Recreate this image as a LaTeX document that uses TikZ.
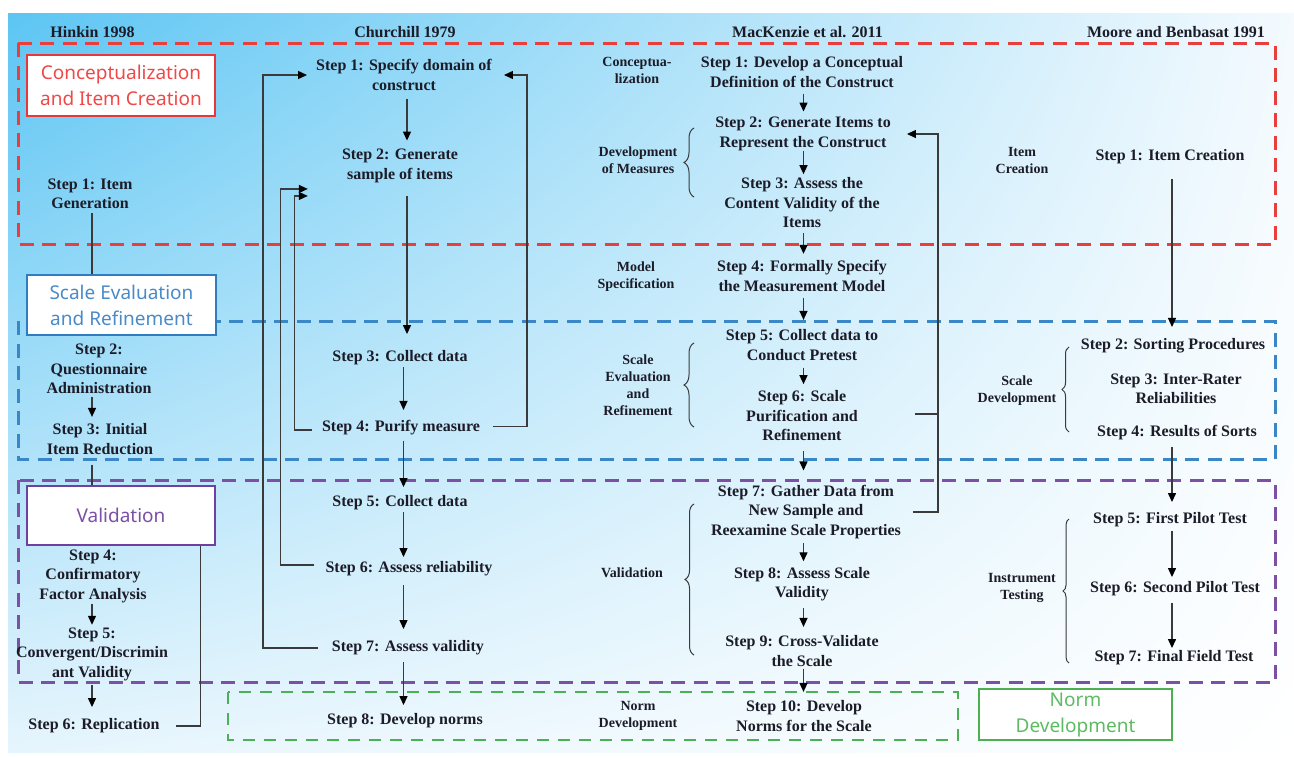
\documentclass[tikz,border=0pt]{standalone}
\usepackage{fontspec}
\setmainfont{Liberation Serif}
\newfontfamily\lblfont{Noto Sans}
\usetikzlibrary{arrows.meta,decorations.pathreplacing,calc,shadings}
\definecolor{bgA}{HTML}{5CC5F3}
\definecolor{bgB}{HTML}{F4FAFE}
\definecolor{bgC}{HTML}{E6F5FD}
\definecolor{dred}{HTML}{E83E3C}
\definecolor{dblue}{HTML}{3A87C8}
\definecolor{dpurp}{HTML}{7B50A5}
\definecolor{dgreen}{HTML}{4DAF56}
\definecolor{tred}{HTML}{F04848}
\definecolor{tblue}{HTML}{4A8AC8}
\definecolor{tpurp}{HTML}{7B50A5}
\definecolor{tgreen}{HTML}{5DBB63}
\definecolor{bred}{HTML}{E8373A}
\definecolor{bblue}{HTML}{2F7DC0}
\definecolor{bpurp}{HTML}{7040A0}
\definecolor{bgreen}{HTML}{4CAF50}
\definecolor{linec}{HTML}{3A3A3A}
\definecolor{txtc}{HTML}{1C1C28}
\newcommand{\mystepfont}{\fontsize{16}{19.5}\selectfont\bfseries}
\newcommand{\myphfont}{\fontsize{14}{17}\selectfont\bfseries}
\newcommand{\myboxfont}{\lblfont\fontsize{19}{26}\selectfont}
\tikzset{
  st/.style={font=\mystepfont, align=center, inner sep=0pt, text=txtc},
  ph/.style={font=\myphfont, align=center, inner sep=0pt, text=txtc},
  lb/.style 2 args={draw=#1, text=#2, line width=2.5pt, fill=white, inner sep=0pt, align=center, font=\myboxfont},
  ln/.style={draw=linec, line width=1.3pt},
  arr/.style={ln, -{Triangle[length=9pt,width=8pt,color=black]}},
  brc/.style={draw=linec, line width=1pt, decorate, decoration={brace, amplitude=#1}},
  dsh/.style={draw=#1, line width=3pt, dash pattern=on 14pt off 8.5pt},
}
\begin{document}
\begin{tikzpicture}[x=1pt,y=-1pt]
\useasboundingbox (0,0) rectangle (1294,758);
\fill[white] (0,0) rectangle (1294,758);
\shade[upper left=bgA, upper right=bgB, lower left=bgC, lower right=white] (8,13) rectangle (1294,752);

% dashed phase regions
\draw[dsh=dred] (18,43) rectangle (1275,244);
\draw[dsh=dblue] (18,321) rectangle (1275,459);
\draw[dsh=dpurp] (18,480) rectangle (1275,682);
\draw[dsh=dgreen, line width=2.5pt, dash pattern=on 12pt off 9pt] (228,692) rectangle (958,740);

% label boxes
\node[lb={bred}{tred}, minimum width=188pt, minimum height=61pt] (lbC) at (121,85.5) {Conceptualization\\and Item Creation};
\node[lb={bblue}{tblue}, minimum width=189pt, minimum height=60pt] (lbS) at (121.5,305) {Scale Evaluation\\and Refinement};
\node[lb={bpurp}{tpurp}, minimum width=188pt, minimum height=59pt] (lbV) at (121,515.5) {Validation};
\node[lb={bgreen}{tgreen}, minimum width=193pt, minimum height=51pt] (lbN) at (1075.5,714.5) {Norm\\Development};

% headers
\node[st] (hdH) at (92.5,32) {Hinkin 1998};
\node[st] (hdC) at (405,32) {Churchill 1979};
\node[st] (hdM) at (807.5,32) {MacKenzie et al. 2011};
\node[st] (hdO) at (1176,32) {Moore and Benbasat 1991};

% Hinkin
\node[st] (h1) at (90,194) {Step 1: Item\\Generation};
\node[st] (h2) at (99,369) {Step 2:\\Questionnaire\\Administration};
\node[st] (h3) at (100,439) {Step 3: Initial\\Item Reduction};
\node[st] (h4) at (93,576) {Step 4:\\Confirmatory\\Factor Analysis};
\node[st] (h5) at (92,654) {Step 5:\\Convergent/Discrimin\\ant Validity};
\node[st] (h6) at (94,726) {Step 6: Replication};

% Churchill
\node[st] (c1) at (404,75) {Step 1: Specify domain of\\construct};
\node[st] (c2) at (400,166) {Step 2: Generate\\sample of items};
\node[st] (c3) at (400,358) {Step 3: Collect data};
\node[st] (c4) at (401,428) {Step 4: Purify measure};
\node[st] (c5) at (400,503) {Step 5: Collect data};
\node[st] (c6) at (409,569) {Step 6: Assess reliability};
\node[st] (c7) at (408,648) {Step 7: Assess validity};
\node[st] (c8) at (405,721) {Step 8: Develop norms};

% MacKenzie
\node[ph] (pConc) at (637,70) {Conceptua-\\lization};
\node[ph] (pDev) at (638,160) {Development\\of Measures};
\node[ph] (pMod) at (636,277) {Model\\Specification};
\node[ph] (pSE) at (638,385) {Scale\\Evaluation\\and\\Refinement};
\node[ph] (pVal) at (632,573) {Validation};
\node[ph] (pNorm) at (638,716) {Norm\\Development};
\node[st] (m1) at (802,72) {Step 1: Develop a Conceptual\\Definition of the Construct};
\node[st] (m2) at (803,134) {Step 2: Generate Items to\\Represent the Construct};
\node[st] (m3) at (802,203) {Step 3: Assess the\\Content Validity of the\\Items};
\node[st] (m4) at (802,276) {Step 4: Formally Specify\\the Measurement Model};
\node[st] (m5) at (802,345) {Step 5: Collect data to\\Conduct Pretest};
\node[st] (m6) at (802,416) {Step 6: Scale\\Purification and\\Refinement};
\node[st] (m7) at (806,512) {Step 7: Gather Data from\\New Sample and\\Reexamine Scale Properties};
\node[st] (m8) at (802,584) {Step 8: Assess Scale\\Validity};
\node[st] (m9) at (802,651) {Step 9: Cross-Validate\\the Scale};
\node[st] (m10) at (804,716) {Step 10: Develop\\Norms for the Scale};

% Moore and Benbasat
\node[ph] (pItem) at (1022,160) {Item\\Creation};
\node[ph] (pSD) at (1017,391) {Scale\\Development};
\node[ph] (pIT) at (1022,588) {Instrument\\Testing};
\node[st] (o1) at (1170,157) {Step 1: Item Creation};
\node[st] (o2) at (1173,346) {Step 2: Sorting Procedures};
\node[st] (o3) at (1176,389) {Step 3: Inter-Rater\\Reliabilities};
\node[st] (o4) at (1177,433) {Step 4: Results of Sorts};
\node[st] (o5) at (1170,520) {Step 5: First Pilot Test};
\node[st] (o6) at (1175,589) {Step 6: Second Pilot Test};
\node[st] (o7) at (1174,658) {Step 7: Final Field Test};

% column coordinates
\coordinate (colH) at (92,0);
\coordinate (colCa) at (407,0);
\coordinate (colCb) at (403.5,0);
\coordinate (colM) at (803.5,0);
\coordinate (colO) at (1172,0);

% Hinkin connectors
\draw[ln, shorten <=4pt] (h1.south -| colH) -- (lbS.north -| colH);
\draw[arr, shorten <=3pt, shorten >=6.5pt] (h2.south -| colH) -- (h3.north -| colH);
\draw[ln, shorten <=10pt] (h3.south -| colH) -- (lbV.north -| colH);
\draw[arr, shorten <=1pt, shorten >=2.5pt] (h4.south -| colH) -- (h5.north -| colH);
\draw[arr, shorten <=4pt, shorten >=11.5pt] (h5.south -| colH) -- (h6.north -| colH);
\draw[ln] ([xshift=16pt]h6.east) -| ([xshift=-16pt]lbV.south east);

% Churchill connectors
\draw[arr, shorten <=8pt, shorten >=8.5pt] (c1.south -| colCa) -- (c2.north -| colCa);
\draw[arr, shorten <=13pt, shorten >=16.5pt] (c2.south -| colCa) -- (c3.north -| colCa);
\draw[arr, shorten <=2pt, shorten >=10.5pt] (c3.south -| colCb) -- (c4.north -| colCb);
\draw[arr, shorten <=5pt, shorten >=8.5pt] (c4.south -| colCb) -- (c5.north -| colCb);
\draw[arr, shorten <=2pt, shorten >=4.5pt] (c5.south -| colCb) -- (c6.north -| colCb);
\draw[arr, shorten <=9pt, shorten >=11.5pt] (c6.south -| colCb) -- (c7.north -| colCb);
\draw[arr, shorten <=7pt, shorten >=8.5pt] (c7.south -| colCb) -- (c8.north -| colCb);
% Churchill feedback loops
\draw[arr] ([shift={(13pt,1.5pt)}]c4.east) -| ([xshift=35pt]c1.east) -- ([xshift=12pt]c1.east);
\draw[arr] ([xshift=-14pt]c7.west) -| ([xshift=-53pt]c1.west) -- ([xshift=-9pt]c1.west);
\draw[arr] ([shift={(-11pt,4pt)}]c6.west) -| ([shift={(-61pt,-6pt)}]c2.south west) -- ([shift={(-34pt,-6pt)}]c2.south west);
\draw[arr] ([shift={(-10pt,-2pt)}]c4.west) -| ([shift={(-47pt,-13pt)}]c2.south west) -- ([shift={(-34pt,-13pt)}]c2.south west);

% MacKenzie connectors
\draw[arr, shorten <=6pt, shorten >=5.5pt] (m1.south -| colM) -- (m2.north -| colM);
\draw[arr, shorten <=0pt, shorten >=3.5pt] (m2.south -| colM) -- (m3.north -| colM);
\draw[arr, shorten <=5pt, shorten >=6.5pt] (m3.south -| colM) -- (m4.north -| colM);
\draw[arr, shorten <=6pt, shorten >=9.5pt] (m4.south -| colM) -- (m5.north -| colM);
\draw[arr, shorten <=7pt, shorten >=6.5pt] (m5.south -| colM) -- (m6.north -| colM);
\draw[arr, shorten <=10pt, shorten >=14.5pt] (m6.south -| colM) -- (m7.north -| colM);
\draw[arr, shorten <=4pt, shorten >=5.5pt] (m7.south -| colM) -- (m8.north -| colM);
\draw[arr, shorten <=7pt, shorten >=8.5pt] (m8.south -| colM) -- (m9.north -| colM);
\draw[arr, shorten <=2pt, shorten >=8.5pt] (m9.south -| colM) -- (m10.north -| colM);
\draw[arr] ([xshift=12pt]m7.east) -| ([xshift=47pt]m2.east) -- ([xshift=16pt]m2.east);
\draw[ln] ([shift={(57pt,2pt)}]m6.east) -- ([shift={(81pt,2pt)}]m6.east);

% Moore connectors
\draw[arr, shorten <=15pt, shorten >=11.5pt] (o1.south -| colO) -- (o2.north -| colO);
\draw[arr, shorten <=6pt, shorten >=10.5pt] (o4.south -| colO) -- (o5.north -| colO);
\draw[arr, shorten <=4pt, shorten >=4.5pt] (o5.south -| colO) -- (o6.north -| colO);
\draw[arr, shorten <=7pt, shorten >=2.5pt] (o6.south -| colO) -- (o7.north -| colO);

% braces
\draw[brc=10pt] (694,197) -- (694,128);
\draw[brc=10pt] (694,427) -- (694,343);
\draw[brc=9pt] (694,655) -- (694,504);
\draw[brc=7pt] (1069,432) -- (1069,347);
\draw[brc=6pt] (1069,663) -- (1069,519);
\end{tikzpicture}
\end{document}
